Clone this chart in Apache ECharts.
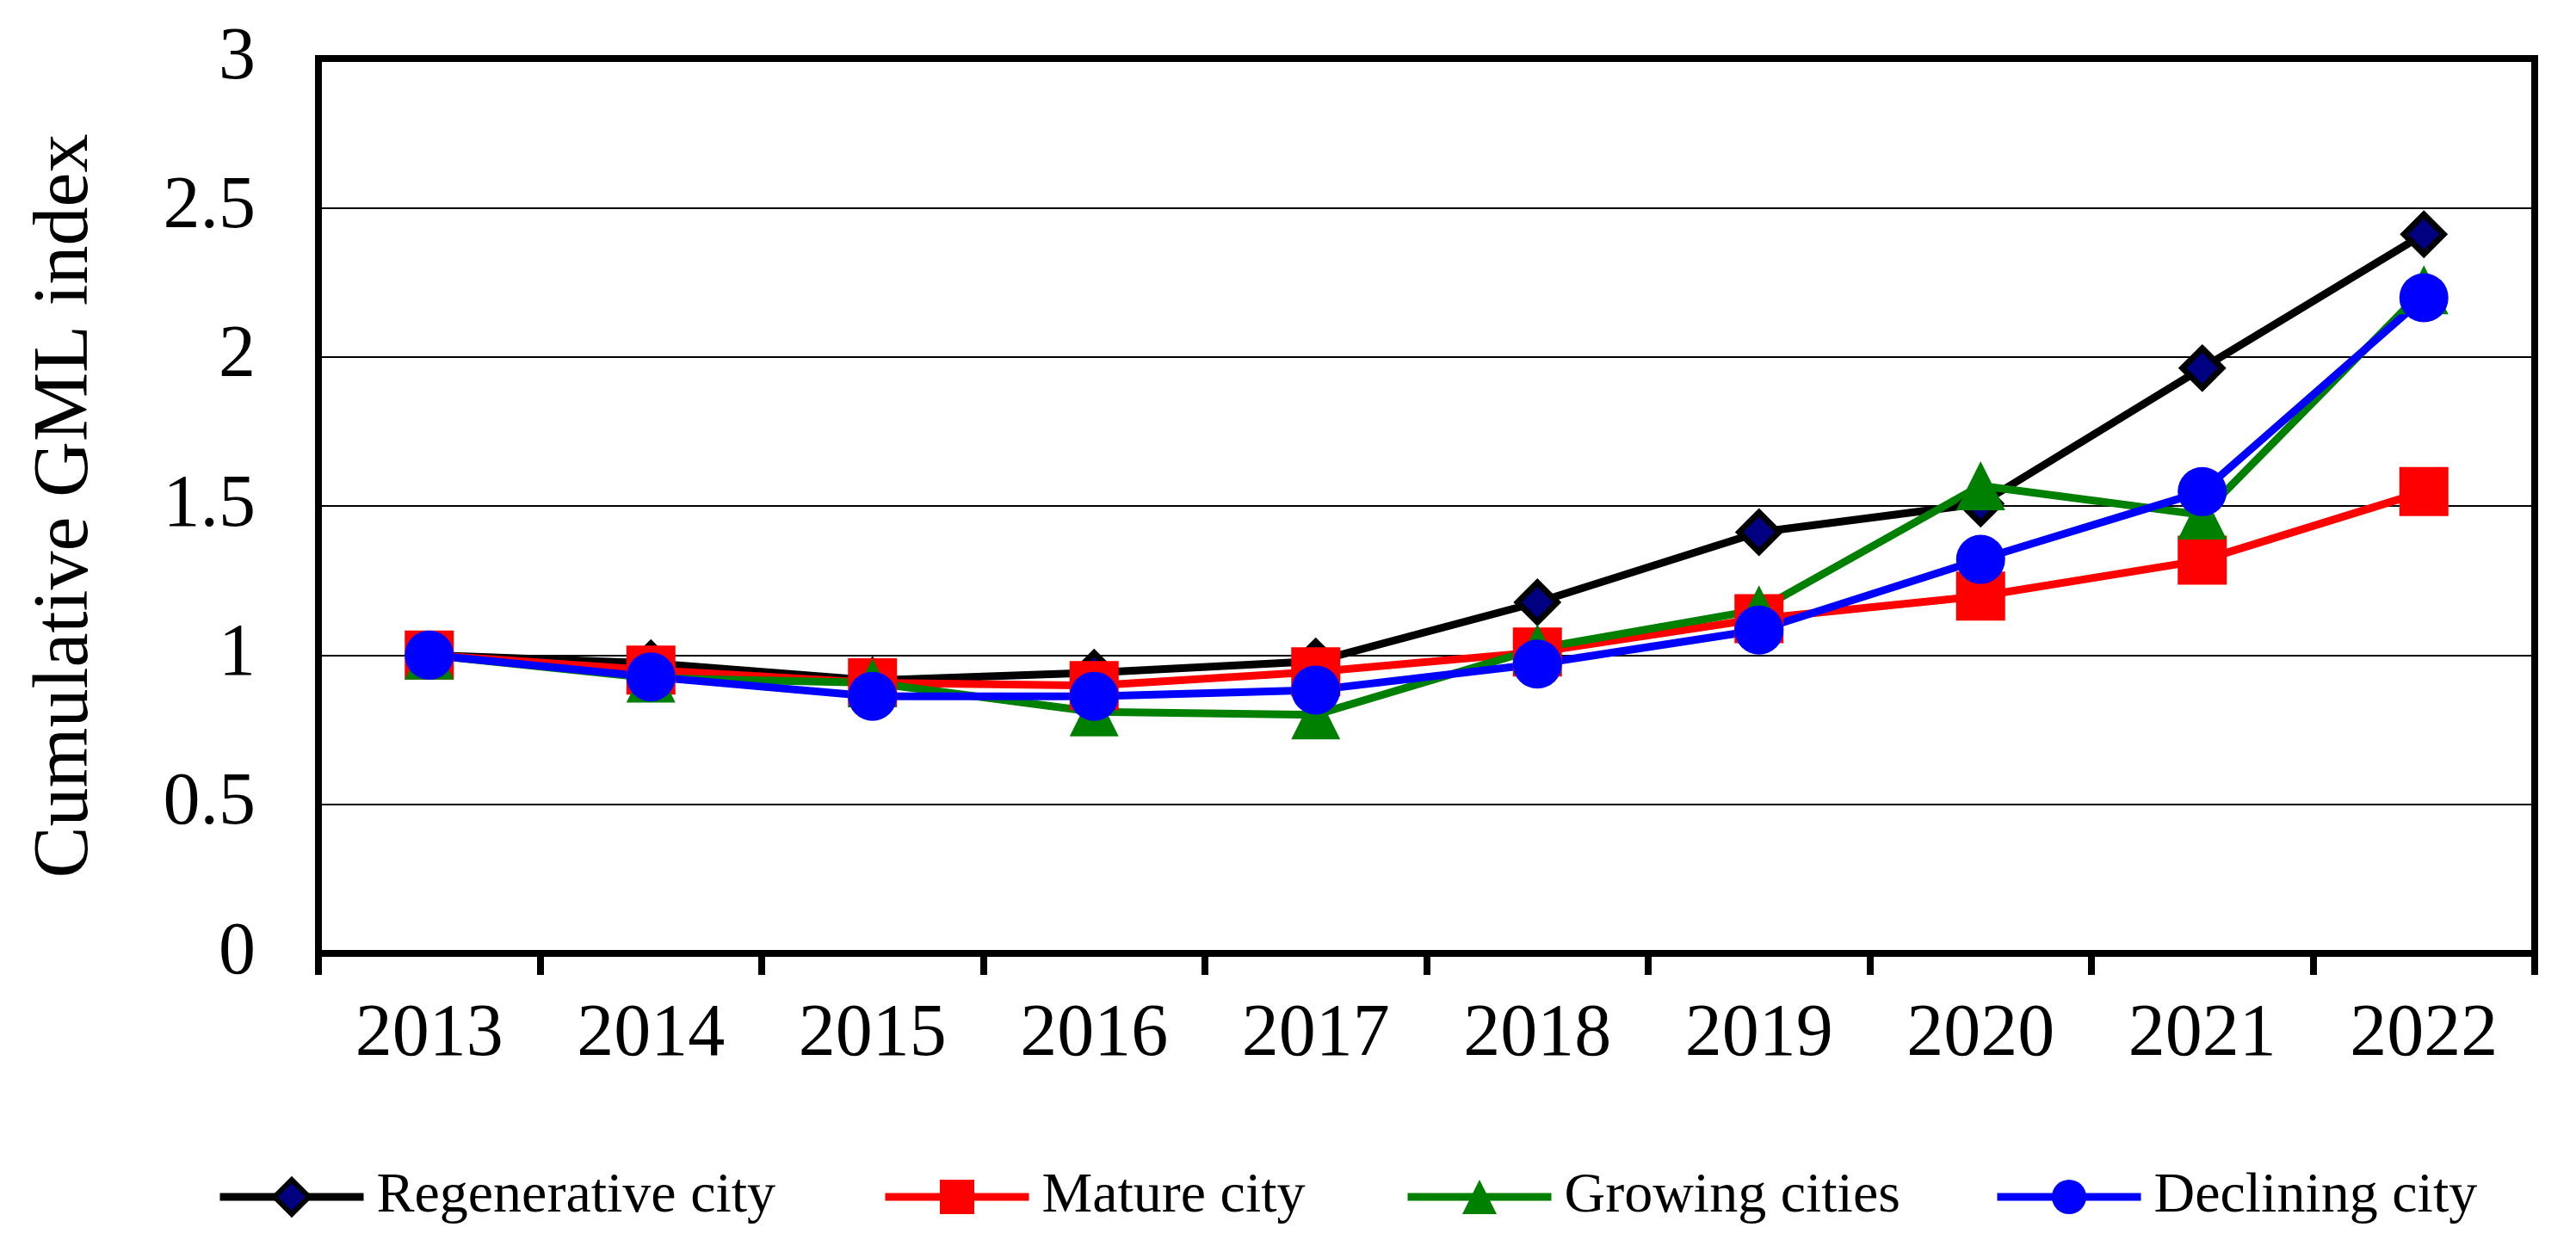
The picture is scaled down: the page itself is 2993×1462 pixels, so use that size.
<!DOCTYPE html>
<html>
<head>
<meta charset="utf-8">
<script src="https://cdn.jsdelivr.net/npm/echarts@6/dist/echarts.min.js"></script>
<style>
html,body{margin:0;padding:0;background:#fff;}
#chart{width:2993px;height:1462px;}
</style>
</head>
<body>
<div id="chart"></div>
<script>
const years = ['2013','2014','2015','2016','2017','2018','2019','2020','2021','2022'];
const regenerative = [1.0, 0.973, 0.915, 0.941, 0.979, 1.177, 1.412, 1.508, 1.962, 2.411];
const mature       = [1.0, 0.950, 0.907, 0.898, 0.944, 1.010, 1.122, 1.198, 1.318, 1.548];
const growing      = [1.0, 0.923, 0.907, 0.810, 0.800, 1.022, 1.152, 1.568, 1.470, 2.225];
const declining    = [1.0, 0.927, 0.862, 0.862, 0.883, 0.970, 1.084, 1.321, 1.548, 2.198];
const seriesNames = ['Regenerative city','Mature city','Growing cities','Declining city'];
const seriesColors = ['#000000','#FF0000','#008000','#0000FF'];
const yAxisTitle = 'Cumulative GML index';

const FONT = '"Liberation Serif", "DejaVu Serif", serif';
const LINE_W = 9;
const chart = echarts.init(document.getElementById('chart'), null, {renderer:'canvas'});

function legendFor(i, left, borderW) {
  return {
    data: [seriesNames[i]],
    left: left,
    top: 1358,
    padding: 0,
    itemWidth: 167,
    itemHeight: 50,
    itemStyle: {borderWidth: borderW},
    lineStyle: {width: LINE_W, color: seriesColors[i]},
    textStyle: {fontFamily: FONT, fontSize: 66, color: '#000', padding: [0,0,0,10]},
    selectedMode: false
  };
}

chart.setOption({
  animation: false,
  backgroundColor: '#fff',
  grid: {left: 370, right: 48, top: 68, bottom: 354, show: true, borderColor: '#000', borderWidth: 8, containLabel: false},
  legend: [
    legendFor(0, 251, 6),
    legendFor(1, 1024, 0),
    legendFor(2, 1631, 0),
    legendFor(3, 2316, 0)
  ],
  xAxis: {
    type: 'category',
    data: years,
    boundaryGap: true,
    axisLine: {show: true, lineStyle: {color: '#000', width: 8}},
    axisTick: {show: true, interval: 0, length: 25, lineStyle: {color: '#000', width: 8}},
    axisLabel: {interval: 0, margin: 52, fontFamily: FONT, fontSize: 86, color: '#000'},
    splitLine: {show: false}
  },
  yAxis: {
    type: 'value',
    min: 0, max: 3, interval: 0.5,
    name: yAxisTitle,
    nameLocation: 'middle',
    nameGap: 248,
    nameTextStyle: {fontFamily: FONT, fontSize: 90, color: '#000'},
    axisLine: {show: true, lineStyle: {color: '#000', width: 8}},
    axisTick: {show: false},
    axisLabel: {margin: 73, fontFamily: FONT, fontSize: 86, color: '#000'},
    splitLine: {show: true, lineStyle: {color: '#000', width: 2}}
  },
  series: [
    {
      name: seriesNames[0], type: 'line', data: regenerative,
      symbol: 'diamond', symbolSize: 46, showAllSymbol: true,
      lineStyle: {color: seriesColors[0], width: LINE_W},
      itemStyle: {color: '#000080', borderColor: '#000', borderWidth: 7},
      emphasis: {disabled: true}
    },
    {
      name: seriesNames[1], type: 'line', data: mature,
      symbol: 'rect', symbolSize: 57, showAllSymbol: true,
      lineStyle: {color: seriesColors[1], width: LINE_W},
      itemStyle: {color: seriesColors[1], borderWidth: 0},
      emphasis: {disabled: true}
    },
    {
      name: seriesNames[2], type: 'line', data: growing,
      symbol: 'triangle', symbolSize: 57, showAllSymbol: true,
      lineStyle: {color: seriesColors[2], width: LINE_W},
      itemStyle: {color: seriesColors[2], borderWidth: 0},
      emphasis: {disabled: true}
    },
    {
      name: seriesNames[3], type: 'line', data: declining,
      symbol: 'circle', symbolSize: 57, showAllSymbol: true,
      lineStyle: {color: seriesColors[3], width: LINE_W},
      itemStyle: {color: seriesColors[3], borderWidth: 0},
      emphasis: {disabled: true}
    }
  ]
});
</script>
</body>
</html>
